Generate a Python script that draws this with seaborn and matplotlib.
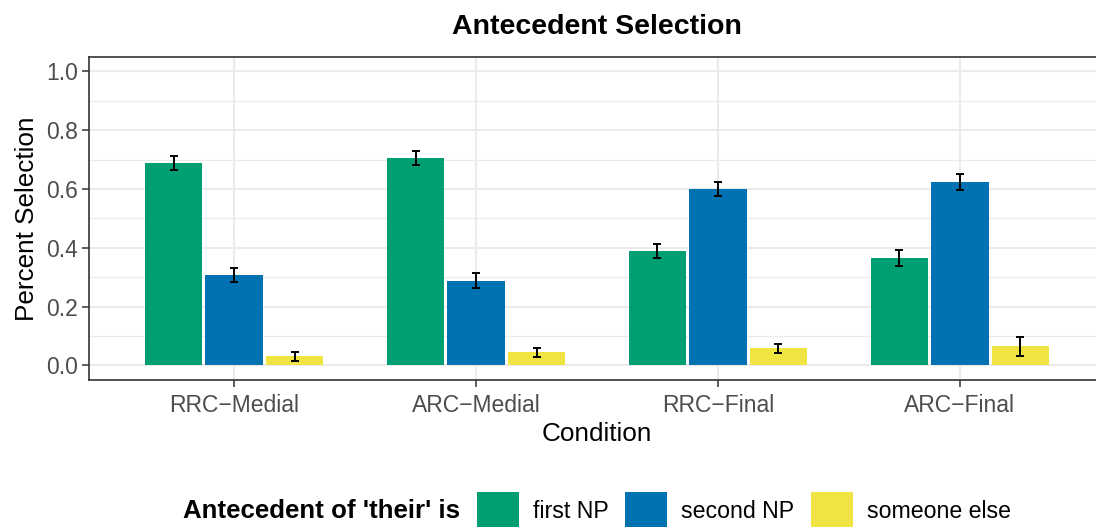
import matplotlib
matplotlib.use("Agg")
import matplotlib.pyplot as plt
import matplotlib.patches as mpatches
import seaborn as sns
import pandas as pd
import numpy as np

conditions = ["RRC\u2212Medial", "ARC\u2212Medial", "RRC\u2212Final", "ARC\u2212Final"]
antecedents = ["first NP", "second NP", "someone else"]
first_np = [0.688, 0.705, 0.390, 0.366]
second_np = [0.308, 0.288, 0.600, 0.624]
someone_else = [0.030, 0.044, 0.058, 0.064]
err_first = [0.023, 0.025, 0.024, 0.027]
err_second = [0.023, 0.025, 0.023, 0.026]
err_else = [0.015, 0.016, 0.016, 0.032]
colors = ["#009E73", "#0072B2", "#F0E442"]
y_ticks = [0.0, 0.2, 0.4, 0.6, 0.8, 1.0]

rows = []
for vals, errs, ant in [(first_np, err_first, antecedents[0]),
                        (second_np, err_second, antecedents[1]),
                        (someone_else, err_else, antecedents[2])]:
    for c, v, e in zip(conditions, vals, errs):
        rows.append({"Condition": c, "Antecedent": ant, "value": v, "err": e})
df = pd.DataFrame(rows)

sns.set_theme(style="white")
plt.rcParams['font.family'] = ['Liberation Sans', 'DejaVu Sans']
plt.rcParams['text.color'] = 'black'

fig = plt.figure(figsize=(10.96, 5.27), dpi=100)
ax = fig.add_axes([89 / 1096, 1 - 380 / 527, (1105 - 89) / 1096, (380 - 56.7) / 527])

# grid
ax.set_axisbelow(True)
for y in np.arange(0.1, 1.05, 0.2):
    ax.axhline(y, color="#EBEBEB", lw=0.8, zorder=0)
for y in y_ticks:
    ax.axhline(y, color="#EBEBEB", lw=1.5, zorder=0)
for x in range(len(conditions)):
    ax.axvline(x, color="#EBEBEB", lw=1.5, zorder=0)

sns.barplot(data=df, x="Condition", y="value", hue="Antecedent",
            order=conditions, hue_order=antecedents, palette=colors,
            width=0.75, gap=0.05, errorbar=None, linewidth=0,
            saturation=1, ax=ax, legend=False, zorder=2)

# error bars using bar positions
bars = [p for p in ax.patches if isinstance(p, mpatches.Rectangle)]
for i, ant in enumerate(antecedents):
    sub = df[df["Antecedent"] == ant]
    for j, c in enumerate(conditions):
        p = bars[i * len(conditions) + j]
        xc = p.get_x() + p.get_width() / 2
        r = sub[sub["Condition"] == c].iloc[0]
        ax.errorbar(xc, r["value"], yerr=r["err"], color="black", lw=1.4,
                    capsize=3, capthick=1.4, zorder=3)

ax.set_xlim(-0.6, 3.6)
ax.set_ylim(-0.05, 1.05)
ax.set_yticks(y_ticks)
ax.set_yticklabels([f"{t:.1f}" for t in y_ticks])

for s in ax.spines.values():
    s.set_color("#333333")
    s.set_linewidth(1.2)
ax.spines["right"].set_visible(False)

ax.tick_params(axis="both", which="major", length=5, width=1.1, color="#333333",
               labelsize=16.5, labelcolor="#4D4D4D", pad=3,
               left=True, bottom=True)
ax.tick_params(axis="x", pad=5)
ax.set_xlabel("Condition", fontsize=18.8, color="black", labelpad=4)
ax.set_ylabel("Percent Selection", fontsize=18.8, color="black", labelpad=5)

fig.text(597 / 1096, 1 - 27 / 527, "Antecedent Selection", ha="center", va="center",
         fontsize=20.5, fontweight="bold", color="black")

# legend
fig.text(183 / 1096, 1 - 511 / 527, "Antecedent of 'their' is", ha="left", va="center",
         fontsize=18.6, fontweight="bold", color="black")
handles = [mpatches.Patch(facecolor=col, edgecolor="none", label=lab)
           for col, lab in zip(colors, antecedents)]
fig.legend(handles=handles, loc="center left", bbox_to_anchor=(477 / 1096, 1 - 511 / 527),
           ncol=3, frameon=False, fontsize=16.7, handlelength=1.8, handleheight=2.2,
           handletextpad=0.6, columnspacing=0.73, borderpad=0, borderaxespad=0,
           labelcolor="black")

fig.savefig("out.png", dpi=100)
